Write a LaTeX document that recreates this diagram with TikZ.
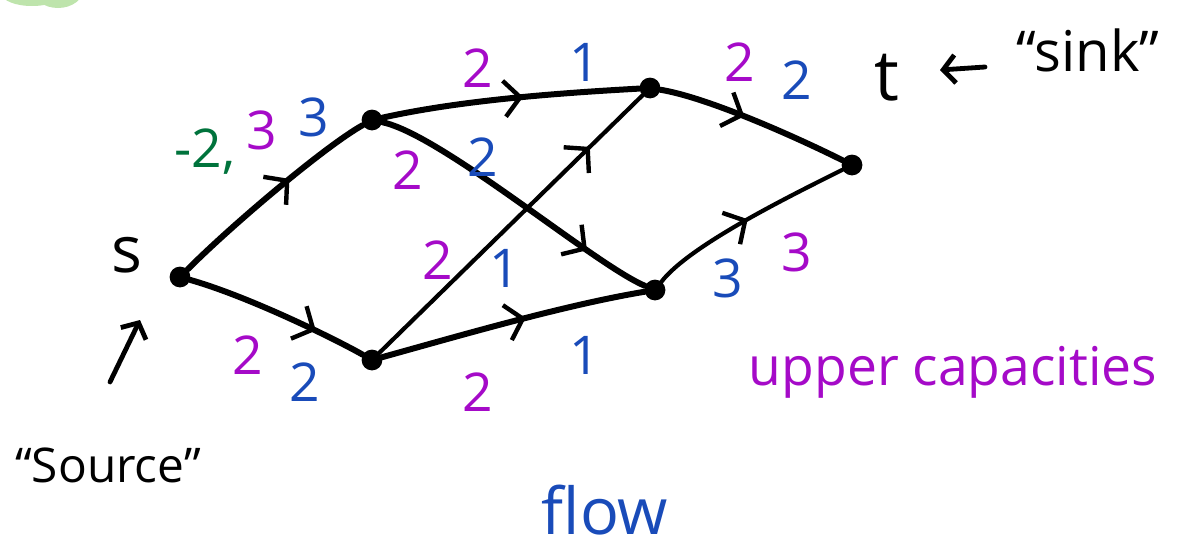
\documentclass[tikz,border=0pt]{standalone}
\usepackage{fontspec}
\setmainfont{Open Sans}
\usetikzlibrary{arrows.meta,decorations.markings,positioning}
\definecolor{capcol}{RGB}{165,10,200}
\definecolor{flowcol}{RGB}{25,75,185}
\definecolor{negcol}{RGB}{0,115,60}
\definecolor{blobcol}{RGB}{190,228,172}
\newcommand{\NumFont}{\fontsize{38}{42}\selectfont}
\newcommand{\WordFont}{\fontsize{34}{38}\selectfont}
\tikzset{
  vert/.style={circle, fill=black, inner sep=0pt, minimum size=5.2mm},
  arc/.style={line width=1.5mm, draw=black, line cap=round},
  thinarc/.style={line width=1.05mm, draw=black, line cap=round},
  midarrow/.style={postaction={decorate}, decoration={markings,
    mark=at position #1 with {\arrow{Straight Barb[length=4mm, width=9mm, line width=1.1mm]}}}},
  caplbl/.style={text=capcol, font=\NumFont, inner sep=0pt},
  flowlbl/.style={text=flowcol, font=\NumFont, inner sep=0pt},
  neglbl/.style={text=negcol, font=\NumFont, inner sep=0pt},
  tag/.style={text=black, font=\WordFont, inner sep=0pt},
  pointer/.style={-{Straight Barb[length=3mm, width=7mm]}, line width=1.2mm, line cap=round}
}
\begin{document}
\begin{tikzpicture}[x=0.25mm, y=-0.25mm]
  \useasboundingbox (0,0) rectangle (1178,555);
  % green blob cut off at the top
  \fill[blobcol] (32,-6) ellipse (30 and 12);
  \fill[blobcol] (58,-12) ellipse (26 and 20);

  % vertices
  \node[vert] (s) at (180,277) {};
  \node[vert] (a) at (372,120) {};
  \node[vert] (b) at (372,360) {};
  \node[vert] (c) at (650,88) {};
  \node[vert] (d) at (655,290) {};
  \node[vert] (t) at (852,165) {};

  % edges
  \draw[arc, midarrow=0.6] (s) .. controls +(55,-55) and +(-45,25) .. (a);
  \draw[arc, midarrow=0.72] (s) .. controls +(70,20) and +(-35,-20) .. (b);
  \draw[arc, midarrow=0.55] (a) .. controls +(90,-20) and +(-90,5) .. (c);
  \draw[arc, midarrow=0.78] (a) .. controls +(70,15) and +(-60,-25) .. (d);
  \draw[thinarc, midarrow=0.8] (b) -- (c);
  \draw[arc, midarrow=0.55] (b) .. controls +(90,-25) and +(-90,15) .. (d);
  \draw[arc, midarrow=0.45] (c) .. controls +(60,10) and +(-50,-25) .. (t);
  \draw[thinarc, midarrow=0.5] (d) .. controls +(35,-45) and +(-60,30) .. (t);

  % capacities and flow
  \node[neglbl] (negSA) at (205,152) {-2,};
  \node[caplbl] (capSA) at (262,130) {3};
  \node[flowlbl] (flowSA) at (314,117) {3};
  \node[caplbl] (capAC) at (478,68) {2};
  \node[flowlbl] (flowAC) at (585,62) {1};
  \node[caplbl] (capCT) at (740,62) {2};
  \node[flowlbl] (flowCT) at (797,80) {2};
  \node[caplbl] (capAD) at (408,170) {2};
  \node[flowlbl] (flowAD) at (483,157) {2};
  \node[caplbl] (capBC) at (438,260) {2};
  \node[flowlbl] (flowBC) at (505,268) {1};
  \node[flowlbl] (flowDT) at (728,278) {3};
  \node[caplbl] (capDT) at (797,252) {3};
  \node[caplbl] (capSB) at (248,355) {2};
  \node[flowlbl] (flowSB) at (305,382) {2};
  \node[caplbl] (capBD) at (478,392) {2};
  \node[flowlbl] (flowBD) at (585,355) {1};

  % names and notes
  \node[tag, font=\fontsize{46}{50}\selectfont] (slabel) at (127,255) {s};
  \node[tag, font=\fontsize{50}{54}\selectfont] (tlabel) at (887,78) {t};
  \node[tag, font=\fontsize{40}{44}\selectfont] (sinktxt) at (1088,50) {“sink”};
  \node[tag] (sourcetxt) at (108,465) {“Source”};
  \node[text=capcol, font=\fontsize{38}{42}\selectfont, inner sep=0pt] (captxt) at (953,372) {upper capacities};
  \node[text=flowcol, font=\fontsize{46}{50}\selectfont, inner sep=0pt] (flowtxt) at (605,510) {flow};
  \coordinate (sinktail) at (985,67);
  \coordinate (sinkhead) at (940,70);
  \coordinate (srctail) at (110,382);
  \coordinate (srchead) at (140,320);
  \draw[pointer] (sinktail) -- (sinkhead);
  \draw[pointer] (srctail) -- (srchead);
\end{tikzpicture}
\end{document}
